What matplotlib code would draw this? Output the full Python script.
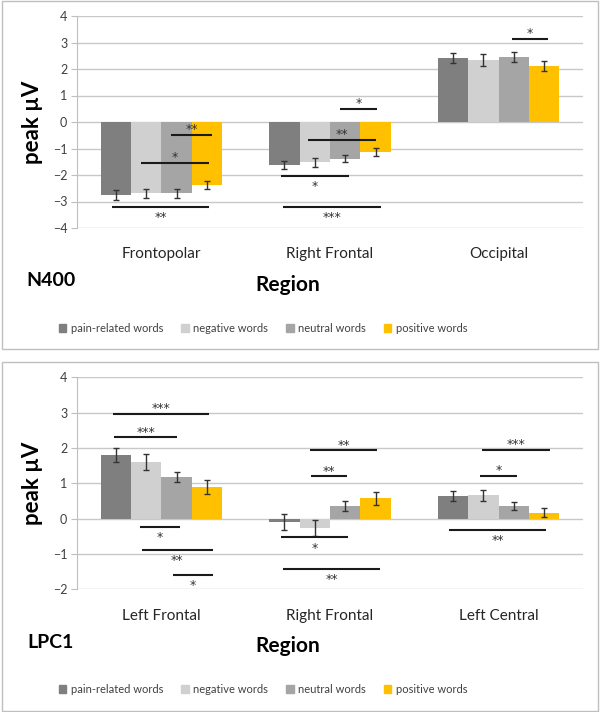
import matplotlib
matplotlib.use('Agg')
import matplotlib.pyplot as plt
import numpy as np
from matplotlib.patches import Rectangle, Patch

plt.rcParams['font.family'] = ['Lato', 'DejaVu Sans']

# conditions / colours
conditions = ['pain-related words', 'negative words', 'neutral words', 'positive words']
cond_colors = ['#7f7f7f', '#d0d0d0', '#a5a5a5', '#ffc000']

# N400 panel
n400_regions = ['Frontopolar', 'Right Frontal', 'Occipital']
n400_pain = [-2.75, -1.63, 2.42]
n400_negative = [-2.69, -1.52, 2.34]
n400_neutral = [-2.69, -1.39, 2.44]
n400_positive = [-2.37, -1.12, 2.11]
n400_pain_err = [0.18, 0.15, 0.20]
n400_negative_err = [0.18, 0.16, 0.21]
n400_neutral_err = [0.18, 0.13, 0.19]
n400_positive_err = [0.16, 0.15, 0.20]
# significance: (x start, x end, y, stars, side)
n400_sig = [(0.06, 0.30, -0.48, '**', 'above'),
            (-0.12, 0.28, -1.55, '*', 'above'),
            (-0.29, 0.28, -3.2, '**', 'below'),
            (1.06, 1.28, 0.5, '*', 'above'),
            (0.87, 1.27, -0.67, '**', 'above'),
            (0.71, 1.11, -2.05, '*', 'below'),
            (0.72, 1.30, -3.22, '***', 'below'),
            (2.08, 2.29, 3.15, '*', 'above')]

# LPC1 panel
lpc_regions = ['Left Frontal', 'Right Frontal', 'Left Central']
lpc_pain = [1.80, -0.10, 0.63]
lpc_negative = [1.61, -0.26, 0.66]
lpc_neutral = [1.18, 0.35, 0.36]
lpc_positive = [0.89, 0.57, 0.17]
lpc_pain_err = [0.20, 0.23, 0.14]
lpc_negative_err = [0.23, 0.22, 0.15]
lpc_neutral_err = [0.15, 0.14, 0.12]
lpc_positive_err = [0.19, 0.18, 0.13]
lpc_sig = [(-0.285, 0.285, 2.97, '***', 'above'),
           (-0.28, 0.095, 2.3, '***', 'above'),
           (-0.126, 0.11, -0.24, '*', 'below'),
           (-0.116, 0.305, -0.89, '**', 'below'),
           (0.071, 0.305, -1.6, '*', 'below'),
           (0.882, 1.281, 1.93, '**', 'above'),
           (0.886, 1.103, 1.2, '**', 'above'),
           (0.71, 1.109, -0.53, '*', 'below'),
           (0.72, 1.297, -1.42, '**', 'below'),
           (1.903, 2.305, 1.95, '***', 'above'),
           (1.89, 2.11, 1.22, '*', 'above'),
           (1.707, 2.28, -0.31, '**', 'below')]

W, H = 600, 712
fig = plt.figure(figsize=(6, 7.12), dpi=100)


def px(x, y):
    return x / W, 1 - y / H


def draw_panel(ax, regions, series, errs, sig, ylim, name, top_px):
    x = np.arange(len(regions))
    bw = 0.18
    offs = (np.arange(4) - 1.5) * bw
    for i in range(4):
        ax.bar(x + offs[i], series[i], bw, color=cond_colors[i], zorder=2)
        ax.errorbar(x + offs[i], series[i], yerr=errs[i], fmt='none',
                    ecolor='#333333', elinewidth=1, capsize=2.5, capthick=1, zorder=3)
    for x0, x1, y, lab, side in sig:
        ax.plot([x0, x1], [y, y], color='#1a1a1a', lw=1.5, zorder=4, solid_capstyle='butt')
        if side == 'above':
            ax.annotate(lab, ((x0 + x1) / 2, y), xytext=(0, -1), textcoords='offset points',
                        ha='center', va='bottom', fontsize=9, family='DejaVu Sans',
                        color='#333333', zorder=5)
        else:
            ax.annotate(lab, ((x0 + x1) / 2, y), xytext=(0, -3), textcoords='offset points',
                        ha='center', va='top', fontsize=9, family='DejaVu Sans',
                        color='#333333', zorder=5)
    ax.set_xlim(-0.5, len(regions) - 0.5)
    ax.set_ylim(*ylim)
    ax.set_yticks(np.arange(ylim[0], ylim[1] + 1))
    ax.set_xticks(x)
    ax.set_xticklabels(regions, fontsize=11, color='#262626')
    ax.tick_params(axis='x', length=0, pad=14)
    ax.tick_params(axis='y', length=4, color='#bfbfbf', labelsize=9, labelcolor='#404040', pad=3)
    ax.grid(axis='y', color='#c8c8c8', lw=1, zorder=0)
    for s in ['top', 'right', 'bottom']:
        ax.spines[s].set_visible(False)
    ax.spines['left'].set_color('#bfbfbf')
    ax.set_ylabel('peak µV', fontsize=16, fontweight='bold', color='#000000')
    ax.yaxis.set_label_coords(-0.067, 0.5)
    ax.yaxis.label.set_va('bottom')
    # panel texts
    fig.text(*px(51, top_px + 265), name, fontsize=14, fontweight='bold', ha='center', va='center')
    fig.text(*px(288, top_px + 269), 'Region', fontsize=15, fontweight='bold', ha='center', va='center')
    handles = [Patch(color=c) for c in cond_colors]
    fig.legend(handles, conditions, loc='center', bbox_to_anchor=px(263, top_px + 312),
               ncol=4, frameon=False, fontsize=8, handlelength=0.7, handleheight=0.7,
               handletextpad=0.4, columnspacing=1.6, labelcolor='#404040')


# top panel
ax1 = fig.add_axes([77 / W, 1 - 228 / H, 506 / W, 212 / H])
draw_panel(ax1, n400_regions,
           [n400_pain, n400_negative, n400_neutral, n400_positive],
           [n400_pain_err, n400_negative_err, n400_neutral_err, n400_positive_err],
           n400_sig, (-4, 4), 'N400', 16)

# bottom panel
ax2 = fig.add_axes([77 / W, 1 - 589.3 / H, 506 / W, 212 / H])
draw_panel(ax2, lpc_regions,
           [lpc_pain, lpc_negative, lpc_neutral, lpc_positive],
           [lpc_pain_err, lpc_negative_err, lpc_neutral_err, lpc_positive_err],
           lpc_sig, (-2, 4), 'LPC1', 377.3)

# frames around each panel
for y0, y1 in [(1, 349), (362, 711)]:
    fig.patches.append(Rectangle((1.5 / W, 1 - y1 / H), 596 / W, (y1 - y0) / H,
                                 transform=fig.transFigure, fill=False,
                                 edgecolor='#bfbfbf', lw=1))

fig.savefig('out.png', dpi=100)
